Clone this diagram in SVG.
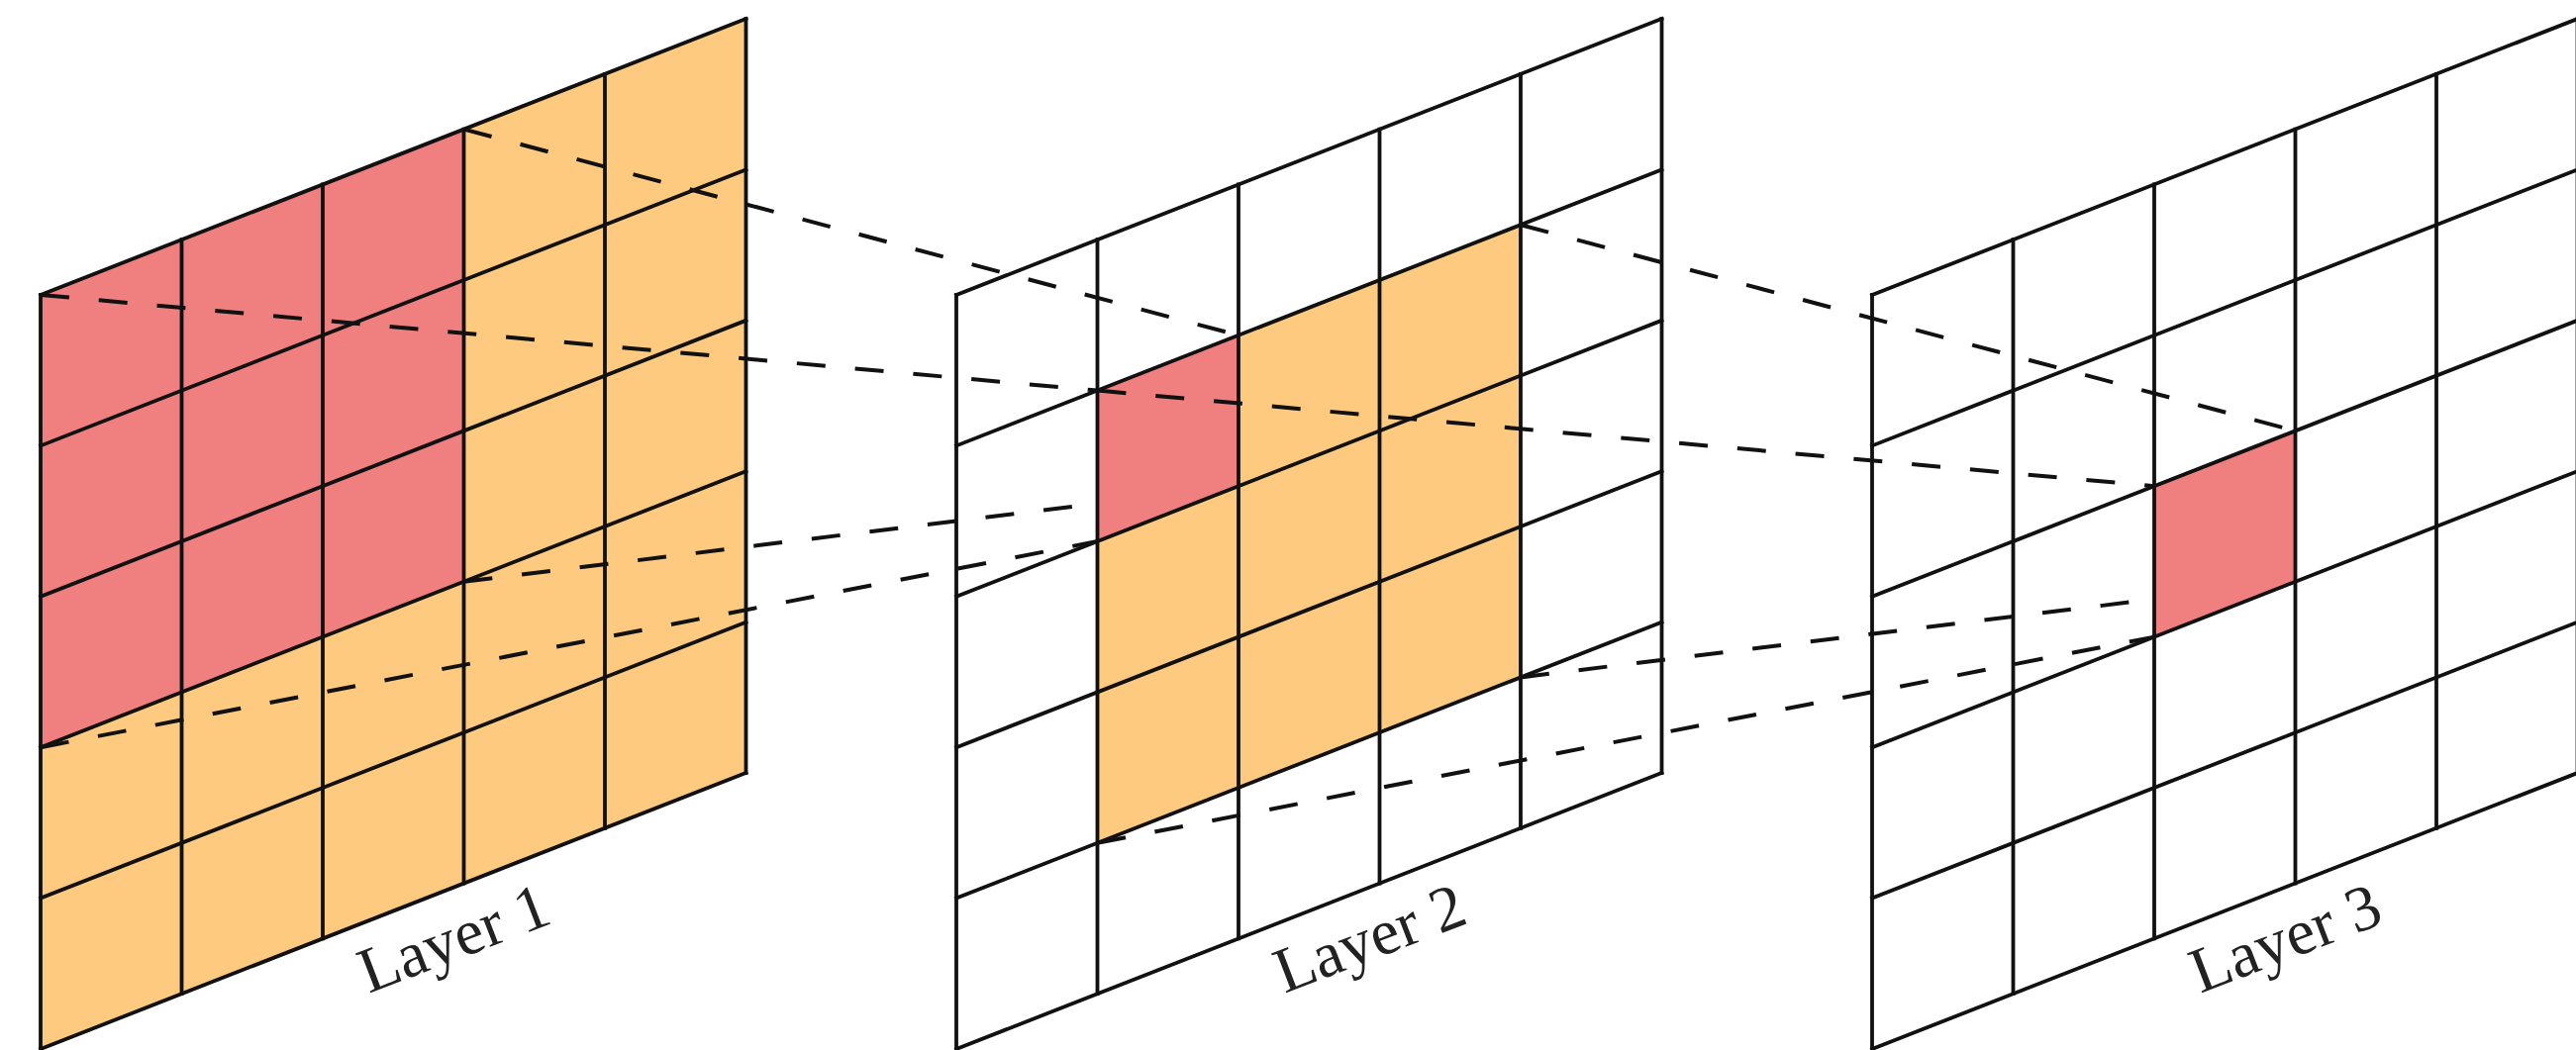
<svg xmlns="http://www.w3.org/2000/svg" xmlns:xlink="http://www.w3.org/1999/xlink" width="2602" height="1061" viewBox="0 0 2602 1061">
<style>
.grid{stroke:#111;stroke-width:3.8;fill:none;stroke-linecap:square}
.red{fill:#F08080}
.orange{fill:#FDCA80}
.conn{stroke:#111;stroke-width:4;fill:none;stroke-dasharray:29 30}
.lbl{font-family:"Liberation Serif","Times New Roman",serif;font-size:65px;fill:#222;text-anchor:middle}
</style>
<defs>
<g id="grid" class="grid">
<line x1="41" y1="298" x2="41" y2="1060"/>
<line x1="183.5" y1="242.2" x2="183.5" y2="1004.2"/>
<line x1="326" y1="186.4" x2="326" y2="948.4"/>
<line x1="468.5" y1="130.6" x2="468.5" y2="892.6"/>
<line x1="611" y1="74.8" x2="611" y2="836.8"/>
<line x1="753.5" y1="19" x2="753.5" y2="781"/>
<line x1="41" y1="298" x2="753.5" y2="19"/>
<line x1="41" y1="450.4" x2="753.5" y2="171.4"/>
<line x1="41" y1="602.8" x2="753.5" y2="323.8"/>
<line x1="41" y1="755.2" x2="753.5" y2="476.2"/>
<line x1="41" y1="907.6" x2="753.5" y2="628.6"/>
<line x1="41" y1="1060" x2="753.5" y2="781"/>
</g>
</defs>
<g id="layer1">
<polygon class="orange" points="41,298 753.5,19 753.5,781 41,1060"/>
<polygon class="red" points="41,298 468.5,130.6 468.5,587.8 41,755.2"/>
<use xlink:href="#grid" href="#grid"/>
<text class="lbl" transform="translate(466,968) rotate(-21)">Layer 1</text>
</g>
<g id="layer2">
<polygon class="orange" points="1108.5,394.6 1536,227.2 1536,684.4 1108.5,851.8"/>
<polygon class="red" points="1108.5,394.6 1251,338.8 1251,491.2 1108.5,547"/>
<use xlink:href="#grid" href="#grid" transform="translate(925,0)"/>
<text class="lbl" transform="translate(1391,968) rotate(-21)">Layer 2</text>
</g>
<g id="layer3">
<polygon class="red" points="2176,491.2 2318.5,435.4 2318.5,587.8 2176,643.6"/>
<use xlink:href="#grid" href="#grid" transform="translate(1850,0)"/>
<text class="lbl" transform="translate(2316,968) rotate(-21)">Layer 3</text>
</g>
<g id="connectors" class="conn">
<line x1="41" y1="298" x2="1108.5" y2="394.6"/>
<line x1="468.5" y1="130.6" x2="1251" y2="338.8"/>
<line x1="41" y1="755.2" x2="1108.5" y2="547"/>
<line x1="468.5" y1="587.8" x2="1108.5" y2="508.8"/>
<line x1="1108.5" y1="394.6" x2="2176" y2="491.2"/>
<line x1="1536" y1="227.2" x2="2318.5" y2="435.4"/>
<line x1="1108.5" y1="851.8" x2="2176" y2="643.6"/>
<line x1="1536" y1="684.4" x2="2176" y2="605.4"/>
</g>
</svg>
